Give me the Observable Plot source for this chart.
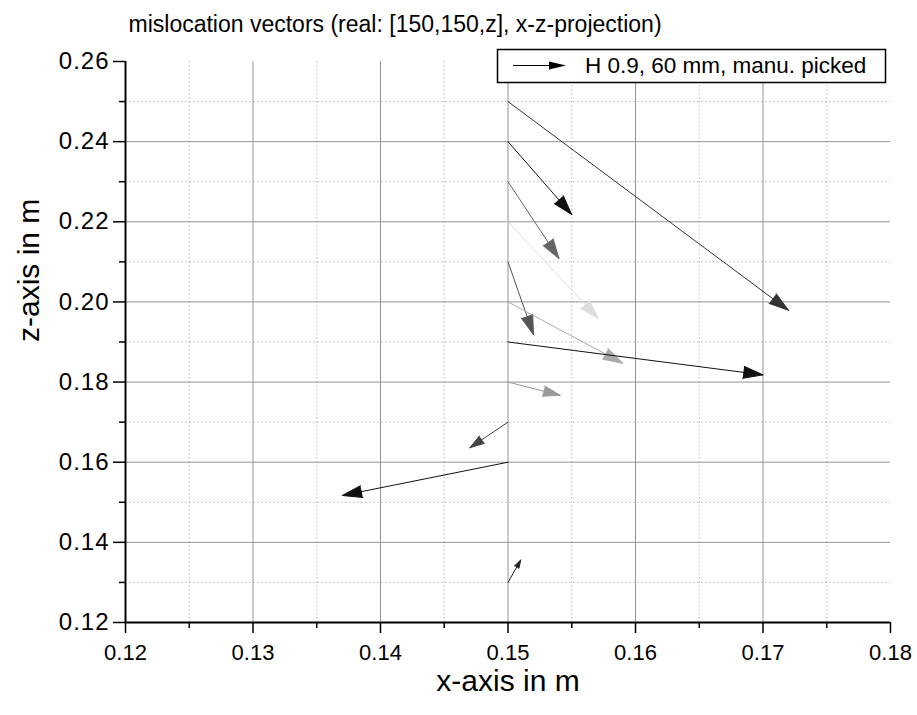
<!DOCTYPE html>
<html>
<head>
<meta charset="utf-8">
<script src="https://cdn.jsdelivr.net/npm/d3@7"></script>
<script src="https://cdn.jsdelivr.net/npm/@observablehq/plot@0.6"></script>
<style>
  body { margin: 0; background: #fff; }
  #chart { width: 917px; height: 715px; }
</style>
</head>
<body>
<div id="chart"></div>
<script>
// ---- data ----
const xStart = [0.15, 0.15, 0.15, 0.15, 0.15, 0.15, 0.15, 0.15, 0.15, 0.15, 0.15];
const zStart = [0.25, 0.24, 0.23, 0.22, 0.21, 0.20, 0.19, 0.18, 0.17, 0.16, 0.13];
const xEnd   = [0.1720, 0.1550, 0.1540, 0.1571, 0.1520, 0.1590, 0.1700, 0.1541, 0.1470, 0.1370, 0.1510];
const zEnd   = [0.1979, 0.2218, 0.2108, 0.1958, 0.1918, 0.1847, 0.1818, 0.1767, 0.1636, 0.1517, 0.1356];
const seriesName = "H 0.9, 60 mm, manu. picked";
const titleText = "mislocation vectors (real: [150,150,z], x-z-projection)";
const xLabel = "x-axis in m";
const zLabel = "z-axis in m";
const xTicks = [0.12, 0.13, 0.14, 0.15, 0.16, 0.17, 0.18];
const xMinor = [0.125, 0.135, 0.145, 0.155, 0.165, 0.175];
const zTicks = [0.12, 0.14, 0.16, 0.18, 0.20, 0.22, 0.24, 0.26];
const zMinor = [0.13, 0.15, 0.17, 0.19, 0.21, 0.23, 0.25];

// ---- styling ----
const arrowShade = ["#333333", "#111111", "#666666", "#dddddd", "#555555", "#aaaaaa", "#111111", "#999999", "#444444", "#111111", "#222222"];
const FONT = "'Liberation Sans', Arial, Helvetica, sans-serif";

const arrows = zStart.map((z, i) => ({x1: xStart[i], y1: z, x2: xEnd[i], y2: zEnd[i], c: arrowShade[i]}));
const inner = (arr) => arr.filter(v => v > arr[0] && v < arr[arr.length - 1]);

const plot = Plot.plot({
  width: 917,
  height: 715,
  marginLeft: 125,
  marginRight: 27,
  marginTop: 61,
  marginBottom: 93,
  style: {fontFamily: FONT, fontSize: "22px", color: "black", background: "white", overflow: "visible"},
  x: {domain: [0.12, 0.18]},
  y: {domain: [0.12, 0.26]},
  color: {type: "identity"},
  marks: [
    // grid
    Plot.gridX(xMinor, {stroke: "#b8b8b8", strokeOpacity: 1, strokeWidth: 1, strokeDasharray: "1.5,2.5"}),
    Plot.gridY(zMinor, {stroke: "#b8b8b8", strokeOpacity: 1, strokeWidth: 1, strokeDasharray: "1.5,2.5"}),
    Plot.gridX(inner(xTicks), {stroke: "#949494", strokeOpacity: 1, strokeWidth: 1}),
    Plot.gridY(inner(zTicks), {stroke: "#949494", strokeOpacity: 1, strokeWidth: 1}),
    // axes
    Plot.axisX(xMinor, {anchor: "bottom", tickSize: 6, tickFormat: () => "", strokeWidth: 1.5, label: null}),
    Plot.axisY(zMinor, {anchor: "left", tickSize: 6, tickFormat: () => "", strokeWidth: 1.5, label: null}),
    Plot.axisX(xTicks, {anchor: "bottom", tickSize: 11, tickPadding: 11, fontSize: 22, tickFormat: d3.format(".2f"), strokeWidth: 1.5, label: null}),
    Plot.axisY(zTicks, {anchor: "left", tickSize: 12, tickPadding: 4, fontSize: 24, tickFormat: d3.format(".2f"), strokeWidth: 1.5, label: null}),
    Plot.ruleY([0.12], {stroke: "black", strokeWidth: 2}),
    Plot.ruleX([0.12], {stroke: "black", strokeWidth: 2}),
    // vectors
    Plot.arrow(arrows, {x1: "x1", y1: "y1", x2: "x2", y2: "y2", stroke: "c", fill: "c", strokeWidth: 1, headLength: 31, headAngle: 34}),
    // texts
    Plot.text([titleText], {frameAnchor: "top-left", text: d => d, textAnchor: "start", lineAnchor: "bottom", dx: 3, dy: -30, fontSize: 23, fill: "black"}),
    Plot.text([xLabel], {frameAnchor: "bottom", text: d => d, lineAnchor: "bottom", dy: 68, fontSize: 30, fill: "black"}),
    Plot.text([zLabel], {frameAnchor: "left", text: d => d, rotate: -90, lineAnchor: "bottom", dx: -87, fontSize: 30, fill: "black"})
  ]
});
document.getElementById("chart").appendChild(plot);

const svg = d3.select(plot);
svg.selectAll('g[aria-label="y-axis tick label"] text').attr("letter-spacing", "1px");

// legend box
const lg = svg.append("g").attr("font-family", FONT).attr("text-anchor", "start");
lg.append("rect").attr("x", 497.5).attr("y", 49.5).attr("width", 388).attr("height", 33)
  .attr("fill", "white").attr("stroke", "black").attr("stroke-width", 1.5);
lg.append("line").attr("x1", 513).attr("y1", 65.5).attr("x2", 552).attr("y2", 65.5)
  .attr("stroke", "black").attr("stroke-width", 1.2);
lg.append("path").attr("d", "M549,61.5L566,65.5L549,69.5Z").attr("fill", "black");
lg.append("text").attr("x", 585).attr("y", 73).attr("font-size", 22.5).attr("fill", "black").attr("text-anchor", "start").text(seriesName);
</script>
</body>
</html>
